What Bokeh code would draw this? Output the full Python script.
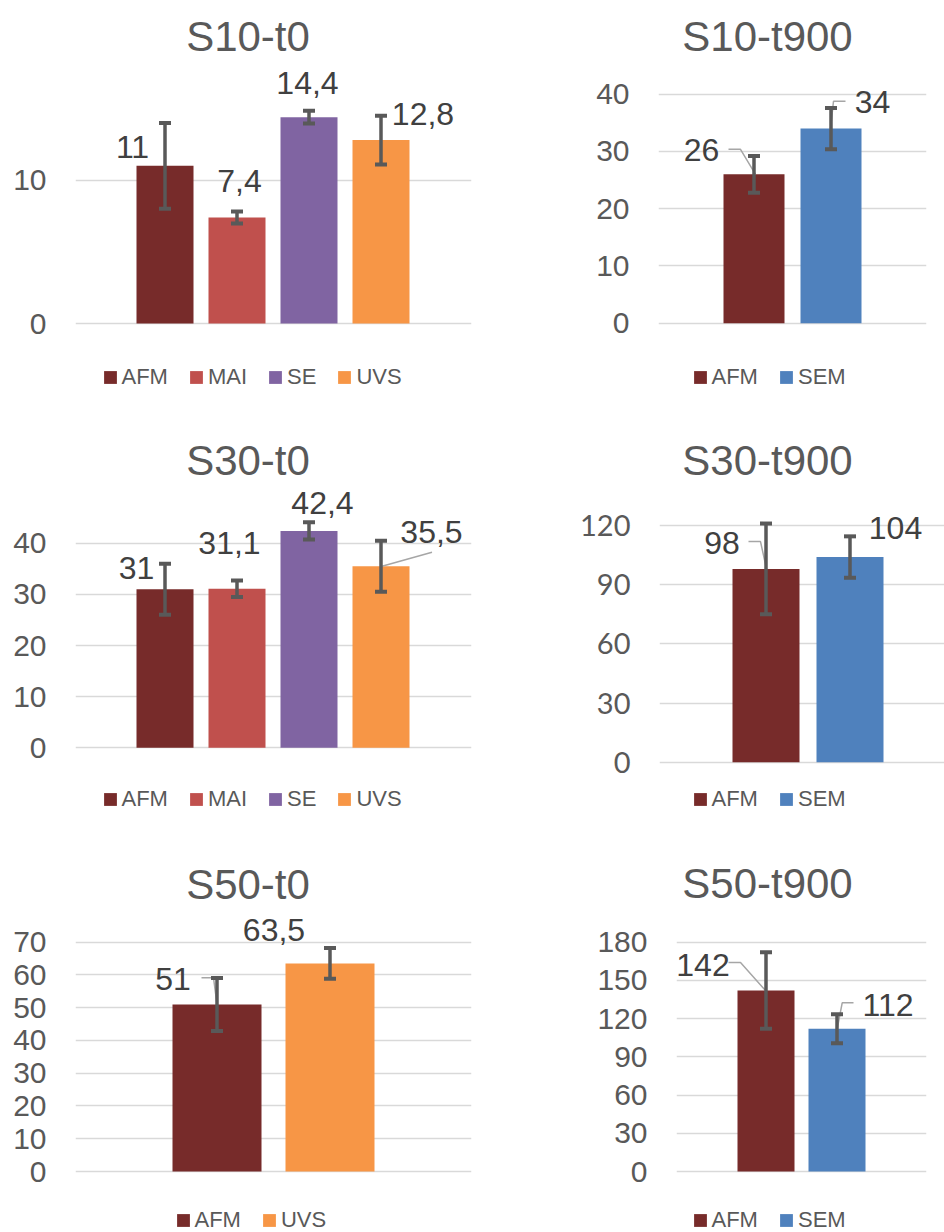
from bokeh.plotting import figure
from bokeh.models import (Range1d, FixedTicker, Whisker, TeeHead, ColumnDataSource,
                          Legend, LegendItem, LabelSet, Label)
from bokeh.core.properties import value
from bokeh.layouts import column, row
from bokeh.embed import file_html
from bokeh.resources import INLINE

# ---------------- data ----------------
s10_t0_methods = ["AFM", "MAI", "SE", "UVS"]
s10_t0_values = [11, 7.4, 14.4, 12.8]
s10_t0_errors = [3.0, 0.42, 0.44, 1.7]
s10_t0_ticks = [0, 10]

s10_t900_methods = ["AFM", "SEM"]
s10_t900_values = [26, 34]
s10_t900_errors = [3.2, 3.6]
s10_t900_ticks = [0, 10, 20, 30, 40]

s30_t0_methods = ["AFM", "MAI", "SE", "UVS"]
s30_t0_values = [31, 31.1, 42.4, 35.5]
s30_t0_errors = [5.0, 1.6, 1.7, 5.0]
s30_t0_ticks = [0, 10, 20, 30, 40]

s30_t900_methods = ["AFM", "SEM"]
s30_t900_values = [98, 104]
s30_t900_errors = [23, 10.5]
s30_t900_ticks = [0, 30, 60, 90, 120]

s50_t0_methods = ["AFM", "UVS"]
s50_t0_values = [51, 63.5]
s50_t0_errors = [8.1, 4.7]
s50_t0_ticks = [0, 10, 20, 30, 40, 50, 60, 70]

s50_t900_methods = ["AFM", "SEM"]
s50_t900_values = [142, 112]
s50_t900_errors = [30, 11.4]
s50_t900_ticks = [0, 30, 60, 90, 120, 150, 180]

# ---------------- style ----------------
COLORS = {"AFM": "#772B2A", "MAI": "#C0504D", "SE": "#8064A2",
          "UVS": "#F79646", "SEM": "#4F81BD"}
FONT = "Liberation Sans"
TXT = "#595959"
LBL = "#404040"
ERR = "#595959"
GRID = "#D9D9D9"
LEAD = "#A6A6A6"


def fmt(v):
    return f"{v:g}".replace(".", ",")


def panel(title, cats, vals, errs, ticks, geo, lab_off, leaders, title_px, legend_px,
          tick_font=FONT, tick_size="30px"):
    fw, fh, fl, fwid, zero, ppu, sp, bw, cx = geo
    n = len(cats)
    mid = (n - 1) / 2
    xs = list(range(n))
    x0 = (fl - cx) / sp + mid
    x1 = (fl + fwid - cx) / sp + mid
    y1 = zero / ppu
    y0 = -(fh - zero) / ppu
    p = figure(width=fw, height=fh, x_range=Range1d(x0, x1), y_range=Range1d(y0, y1),
               output_backend="svg", toolbar_location=None, x_axis_location=None,
               min_border_left=fl, min_border_right=fw - fl - fwid,
               min_border_top=0, min_border_bottom=0)
    p.outline_line_color = None
    p.xgrid.visible = False
    p.ygrid.ticker = FixedTicker(ticks=ticks)
    p.ygrid.grid_line_color = GRID
    p.ygrid.grid_line_width = 1.5
    ax = p.yaxis[0]
    ax.ticker = FixedTicker(ticks=ticks)
    ax.axis_line_color = None
    ax.major_tick_line_color = None
    ax.minor_tick_line_color = None
    ax.major_tick_out = 0
    ax.major_label_standoff = 29
    ax.major_label_text_font = tick_font
    ax.major_label_text_font_size = tick_size
    ax.major_label_text_color = TXT

    src = ColumnDataSource(dict(
        x=xs, top=vals, color=[COLORS[c] for c in cats],
        upper=[v + e for v, e in zip(vals, errs)],
        lower=[v - e for v, e in zip(vals, errs)],
        label=[fmt(v) for v in vals],
        dx=[o[0] for o in lab_off], dy=[-o[1] for o in lab_off]))
    r = p.vbar(x="x", top="top", bottom=0, width=bw / sp, fill_color="color",
               line_color=None, source=src)

    # leader lines (pixel offsets from bar top converted to data units)
    if leaders:
        lx, ly = [], []
        for i, pts in leaders:
            lx.append([xs[i] + px / sp for px, _ in pts])
            ly.append([vals[i] - py / ppu for _, py in pts])
        p.multi_line(xs=lx, ys=ly, line_color=LEAD, line_width=1.5)

    p.add_layout(Whisker(base="x", upper="upper", lower="lower", source=src,
                         line_color=ERR, line_width=3.5, level="annotation",
                         upper_head=TeeHead(size=12, line_color=ERR, line_width=4),
                         lower_head=TeeHead(size=12, line_color=ERR, line_width=4)))

    p.add_layout(LabelSet(x="x", y="top", text="label", x_offset="dx", y_offset="dy",
                          source=src, text_font=value(FONT), text_font_size="32px",
                          text_color=LBL, text_align="center", text_baseline="middle"))

    tx, ty = title_px
    p.add_layout(Label(x=x0 + (tx - fl) / sp, y=y1 - ty / ppu, text=title,
                       text_font=FONT, text_font_size="42px", text_color=TXT,
                       text_align="center", text_baseline="middle"))

    legend = Legend(items=[LegendItem(label=c, renderers=[r], index=i)
                           for i, c in enumerate(cats)],
                    location=legend_px, orientation="horizontal",
                    glyph_width=16, glyph_height=16, label_standoff=4, spacing=20,
                    padding=0, margin=0, border_line_color=None,
                    background_fill_alpha=0, label_text_font=FONT,
                    label_text_font_size="22px", label_text_color=TXT)
    p.add_layout(legend)
    return p


# geo: fig_w, fig_h, frame_left, frame_w, zero_y_px, px_per_unit, bar_spacing, bar_w, cluster_center
p1 = panel("S10-t0", s10_t0_methods, s10_t0_values, s10_t0_errors, s10_t0_ticks,
           (480, 428, 75, 396, 323, 14.33, 72, 57, 272.5),
           [(-32.5, -19), (2.5, -36), (-1.5, -34), (42, -26)],
           [], (247.5, 36), (26.5, 38.5))
p2 = panel("S10-t900", s10_t900_methods, s10_t900_values, s10_t900_errors, s10_t900_ticks,
           (464, 428, 178, 268, 322.7, 5.725, 77, 61, 312),
           [(-52.5, -24.3), (41.5, -26.5)],
           [(0, [(-25.5, -25), (-13.5, -25), (1.5, 0)]),
            (1, [(14.5, -27.3), (2.5, -27.3), (-0.5, 0)])],
           (287, 36), (33.5, 38.5))
p3 = panel("S30-t0", s30_t0_methods, s30_t0_values, s30_t0_errors, s30_t0_ticks,
           (480, 422, 75, 396, 319.3, 5.115, 72, 57, 272.5),
           [(-28.5, -21.5), (-7.5, -45.7), (13.5, -28), (50.5, -34.7)],
           [(3, [(51, -14), (1, 0)])],
           (247.5, 32), (26.5, 37.7))
p4 = panel("S30-t900", s30_t900_methods, s30_t900_values, s30_t900_errors, s30_t900_ticks,
           (464, 422, 179, 285, 333.7, 1.9725, 84, 67, 327.5),
           [(-44, -25.5), (45.5, -29)],
           [(0, [(-17.5, -27.3), (-5.5, -27.3), (0.5, 0)])],
           (287, 32), (32.5, 37.7), tick_font="Lato", tick_size="29px")
p5 = panel("S50-t0", s50_t0_methods, s50_t0_values, s50_t0_errors, s50_t0_ticks,
           (480, 382, 75, 396, 321, 3.276, 113, 89, 273),
           [(-44, -25), (-56, -33)],
           [(0, [(-15.5, -26.7), (-3.5, -26.7), (0, 0)])],
           (247.5, 34), (99.5, -0.5))
p6 = panel("S50-t900", s50_t900_methods, s50_t900_values, s50_t900_errors, s50_t900_ticks,
           (464, 382, 196, 250, 321, 1.274, 71, 57, 321),
           [(-63, -26), (51, -24.3)],
           [(0, [(-37.5, -28), (-25.5, -28), (-0.5, 0)]),
            (1, [(16.5, -26), (5.2, -26), (0.2, 0)])],
           (287, 33), (15.5, -0.5))

layout = column(row(p1, p2), row(p3, p4), row(p5, p6))
open("out.html", "w").write(file_html(layout, INLINE))
